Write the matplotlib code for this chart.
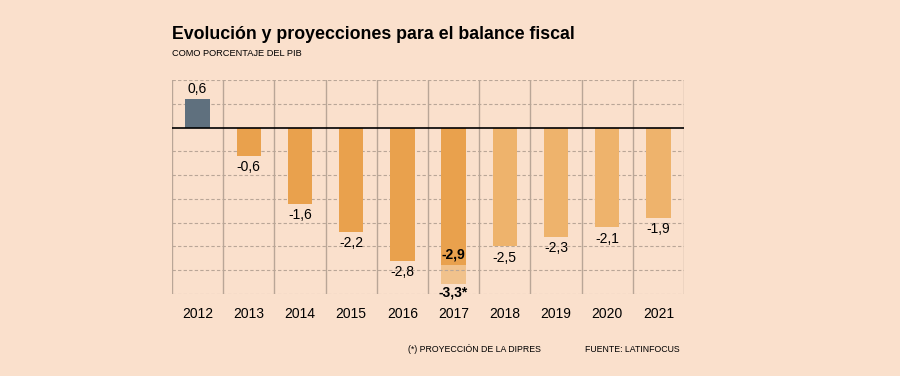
import matplotlib
matplotlib.use('Agg')
import matplotlib.pyplot as plt

years = ['2012', '2013', '2014', '2015', '2016', '2017', '2018', '2019', '2020', '2021']
values = [0.6, -0.6, -1.6, -2.2, -2.8, -2.9, -2.5, -2.3, -2.1, -1.9]
labels = ['0,6', '-0,6', '-1,6', '-2,2', '-2,8', '-2,9', '-2,5', '-2,3', '-2,1', '-1,9']
dipres_2017 = -3.3
dipres_label = '-3,3*'

plt.rcParams['font.family'] = ['Liberation Sans', 'DejaVu Sans']

bg = '#fae0cc'
dark = '#5f707e'
orange = '#e9a14d'
light = '#eeb36c'
lighter = '#f1c28c'
gridc = '#b9a697'

fig = plt.figure(figsize=(9, 3.76), dpi=100, facecolor=bg)
ax = fig.add_axes([172 / 900, 1 - 294 / 376, 512 / 900, 214 / 376])
ax.set_facecolor(bg)

x = list(range(len(years)))
colors = [dark] + [orange] * 5 + [light] * 4

# proyeccion 2017 (parte clara, detras de la grilla)
ax.bar(5, dipres_2017, width=0.48, color=lighter, zorder=0.5)
ax.bar(x, values, width=0.48, color=colors, zorder=3)

ax.set_xlim(-0.5, len(years) - 0.5)
ax.set_ylim(-3.5, 1.0)

for yv in [-3.5, -3.0, -2.5, -2.0, -1.5, -1.0, -0.5, 0.5, 1.0]:
    ax.axhline(yv, color=gridc, lw=0.8, ls=(0, (3, 2)), zorder=1)
for xv in [i - 0.5 for i in range(len(years) + 1)]:
    ax.axvline(xv, color=gridc, lw=1.0, zorder=1)
ax.axhline(0, color='black', lw=1.2, zorder=4)

for s in ax.spines.values():
    s.set_visible(False)
ax.set_xticks([])
ax.set_yticks([])

fs = 10
for i, (v, lab) in enumerate(zip(values, labels)):
    if i == 5:
        ax.annotate(lab, (i, v), xytext=(0, 3), textcoords='offset points',
                    ha='center', va='bottom', fontsize=fs, fontweight='bold', zorder=5)
    elif v > 0:
        ax.annotate(lab, (i, v), xytext=(0, 2), textcoords='offset points',
                    ha='center', va='bottom', fontsize=fs, zorder=5)
    else:
        ax.annotate(lab, (i, v), xytext=(0, -3), textcoords='offset points',
                    ha='center', va='top', fontsize=fs, zorder=5)
ax.annotate(dipres_label, (5, dipres_2017), xytext=(0, -1), textcoords='offset points',
            ha='center', va='top', fontsize=fs, fontweight='bold', zorder=5)

for i, yr in enumerate(years):
    ax.annotate(yr, (i, -3.5), xytext=(0, -9), textcoords='offset points',
                ha='center', va='top', fontsize=fs)

fig.text(172 / 900, 1 - 39 / 376, 'Evolución y proyecciones para el balance fiscal',
         fontsize=12.8, fontweight='bold', ha='left', va='baseline')
fig.text(172 / 900, 1 - 56 / 376, 'COMO PORCENTAJE DEL PIB',
         fontsize=6.7, ha='left', va='baseline')
fig.text(408 / 900, 1 - 352 / 376, '(*) PROYECCIÓN DE LA DIPRES',
         fontsize=6.3, ha='left', va='baseline')
fig.text(680 / 900, 1 - 352 / 376, 'FUENTE: LATINFOCUS',
         fontsize=6.3, ha='right', va='baseline')

fig.savefig('out.png', dpi=100, facecolor=bg)
